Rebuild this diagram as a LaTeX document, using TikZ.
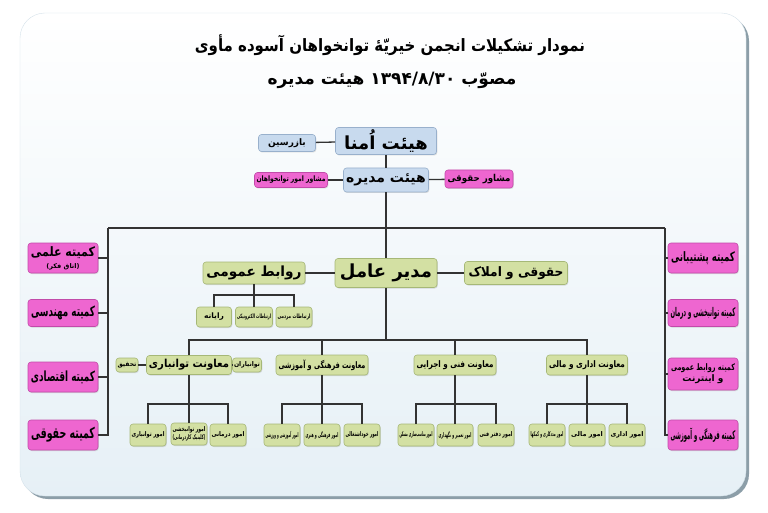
\documentclass[tikz,border=0pt]{standalone}
\usepackage{fontspec}
\usepackage{graphicx}
\usetikzlibrary{shadows}
\TeXXeTstate=1
\newfontfamily\fa[Script=Arabic]{DejaVu Sans}
\newsavebox\mybx
\newcommand\fitR[2]{\sbox\mybx{#2}\ifdim\wd\mybx>#1\resizebox{#1}{\height}{\usebox\mybx}\else\usebox\mybx\fi}
\newcommand\fsz[1]{\fontsize{#1}{#1}\selectfont}
\definecolor{bluef}{HTML}{C8DAEE}
\definecolor{blued}{HTML}{98B0CC}
\definecolor{greenf}{HTML}{D3E0A3}
\definecolor{greend}{HTML}{A6B877}
\definecolor{pinkf}{HTML}{EE66D0}
\definecolor{pinkd}{HTML}{C24BA9}
\definecolor{linec}{HTML}{333333}
\definecolor{bgb}{HTML}{E6F0F6}
\definecolor{shadowc}{HTML}{8C9EA8}
\definecolor{framec}{HTML}{D5E2EA}
\tikzset{
  box/.style={rounded corners=3pt, inner sep=1pt, align=center, line width=0.6pt,
    drop shadow={opacity=0.25, shadow xshift=0.8pt, shadow yshift=-1pt}},
  bluebox/.style={box, fill=bluef, draw=blued},
  greenbox/.style={box, fill=greenf, draw=greend},
  pinkbox/.style={box, fill=pinkf, draw=pinkd},
  conn/.style={draw=linec, line width=1.3pt},
  ttl/.style={inner sep=0pt, font=\fa\bfseries\fsz{17}}
}
\begin{document}
\begin{tikzpicture}[x=1pt,y=-1pt]
\useasboundingbox (0,0) rectangle (768,513);
\fill[white] (0,0) rectangle (768,513);
% frame
\fill[shadowc, rounded corners=25pt] (23,16) rectangle (749,499);
\shade[rounded corners=25pt, top color=white, bottom color=bgb, draw=framec] (20,13) rectangle (746,496);

% title
\node[ttl] (t1) at (390,45) {\fitR{390pt}{\beginR نمودار تشکیلات انجمن خیریّهٔ توانخواهان آسوده مأوی\endR}};
\node[ttl] (t2) at (392,80) {\fitR{255pt}{\beginR مصوّب \beginL ۱۳۹۴/۸/۳۰\endL{} هیئت مدیره\endR}};

% top
\node[bluebox, minimum width=101pt, minimum height=27pt, font=\fa\bfseries\fsz{18}] (omana) at (386,141) {\fitR{95pt}{\beginR هیئت اُمنا\endR}};
\node[bluebox, minimum width=57pt, minimum height=17pt, font=\fa\bfseries\fsz{9}] (bazresin) at (287,143) {\fitR{52pt}{\beginR بازرسین\endR}};
\node[bluebox, minimum width=85pt, minimum height=24pt, font=\fa\bfseries\fsz{14}] (modire) at (386,180) {\fitR{80pt}{\beginR هیئت مدیره\endR}};
\node[pinkbox, minimum width=73pt, minimum height=15pt, font=\fa\bfseries\fsz{7.5}] (mosh1) at (291,180) {\fitR{69pt}{\beginR مشاور امور توانخواهان\endR}};
\node[pinkbox, minimum width=68pt, minimum height=18pt, font=\fa\bfseries\fsz{9.5}] (mosh2) at (479,179) {\fitR{63pt}{\beginR مشاور حقوقی\endR}};

% committees left
\node[pinkbox, minimum width=70pt, minimum height=30pt, font=\fa\bfseries\fsz{13}] (c1) at (63,258) {\fitR{64pt}{\beginR کمیته علمی\endR}\\[-1pt]{\fsz{6.5}\fitR{60pt}{\beginR (اتاق فکر)\endR}}};
\node[pinkbox, minimum width=70pt, minimum height=27pt, font=\fa\bfseries\fsz{14}] (c2) at (63,313) {\fitR{64pt}{\beginR کمیته مهندسی\endR}};
\node[pinkbox, minimum width=70pt, minimum height=30pt, font=\fa\bfseries\fsz{14}] (c3) at (63,377) {\fitR{64pt}{\beginR کمیته اقتصادی\endR}};
\node[pinkbox, minimum width=70pt, minimum height=30pt, font=\fa\bfseries\fsz{15}] (c4) at (63,435) {\fitR{64pt}{\beginR کمیته حقوقی\endR}};
% committees right
\node[pinkbox, minimum width=70pt, minimum height=30pt, font=\fa\bfseries\fsz{13}] (d1) at (703,258) {\fitR{64pt}{\beginR کمیته پشتیبانی\endR}};
\node[pinkbox, minimum width=70pt, minimum height=27pt, font=\fa\bfseries\fsz{12}] (d2) at (703,313) {\fitR{65pt}{\beginR کمیته توانبخشی و درمان\endR}};
\node[pinkbox, minimum width=70pt, minimum height=32pt, font=\fa\bfseries\fsz{9}] (d3) at (703,374) {\fitR{64pt}{\beginR کمیته روابط عمومی\endR}\\[1pt]\fitR{64pt}{\beginR و اینترنت\endR}};
\node[pinkbox, minimum width=70pt, minimum height=30pt, font=\fa\bfseries\fsz{12}] (d4) at (703,435) {\fitR{65pt}{\beginR کمیته فرهنگی و آموزشی\endR}};

% executive
\node[greenbox, minimum width=102pt, minimum height=29pt, font=\fa\bfseries\fsz{18}] (modir) at (386,273) {\fitR{95pt}{\beginR مدیر عامل\endR}};
\node[greenbox, minimum width=102pt, minimum height=22pt, font=\fa\bfseries\fsz{14}] (rav) at (254,273) {\fitR{95pt}{\beginR روابط عمومی\endR}};
\node[greenbox, minimum width=103pt, minimum height=23pt, font=\fa\bfseries\fsz{13}] (hoq) at (516,273) {\fitR{95pt}{\beginR حقوقی و املاک\endR}};
\node[greenbox, minimum width=35pt, minimum height=20pt, font=\fa\bfseries\fsz{7.5}] (r1) at (214,317) {\fitR{31pt}{\beginR رایانه\endR}};
\node[greenbox, minimum width=37pt, minimum height=20pt, font=\fa\bfseries\fsz{6}] (r2) at (254,317) {\fitR{34pt}{\beginR ارتباطات الکترونیکی\endR}};
\node[greenbox, minimum width=36pt, minimum height=20pt, font=\fa\bfseries\fsz{6}] (r3) at (294,317) {\fitR{33pt}{\beginR ارتباطات مردمی\endR}};

% deputies
\node[greenbox, minimum width=85pt, minimum height=19pt, font=\fa\bfseries\fsz{11}] (m1) at (189,365) {\fitR{80pt}{\beginR معاونت توانباری\endR}};
\node[greenbox, minimum width=29pt, minimum height=14pt, font=\fa\bfseries\fsz{6.5}] (tav) at (247,365) {\fitR{26pt}{\beginR توانیاران\endR}};
\node[greenbox, minimum width=22pt, minimum height=14pt, font=\fa\bfseries\fsz{6.5}] (tah) at (127,365) {\fitR{19pt}{\beginR تحقیق\endR}};
\node[greenbox, minimum width=92pt, minimum height=20pt, font=\fa\bfseries\fsz{9}] (m2) at (322,365) {\fitR{87pt}{\beginR معاونت فرهنگی و آموزشی\endR}};
\node[greenbox, minimum width=82pt, minimum height=20pt, font=\fa\bfseries\fsz{9}] (m3) at (455,365) {\fitR{77pt}{\beginR معاونت فنی و اجرایی\endR}};
\node[greenbox, minimum width=81pt, minimum height=20pt, font=\fa\bfseries\fsz{9}] (m4) at (587,365) {\fitR{76pt}{\beginR معاونت اداری و مالی\endR}};

% bottom row
\tikzset{sm/.style={greenbox, minimum width=36pt, minimum height=22pt, font=\fa\bfseries\fsz{6.5}}}
\node[sm] (b11) at (148,435) {\fitR{33pt}{\beginR امور توانباری\endR}};
\node[sm] (b12) at (189,434) {\fitR{33pt}{\beginR امور توانبخشی\endR}\\[0pt]\fitR{33pt}{\beginR (کلینیک کاردرمانی)\endR}};
\node[sm] (b13) at (228,435) {\fitR{33pt}{\beginR امور درمانی\endR}};
\node[sm] (b21) at (282,435) {\fitR{33pt}{\beginR امور آموزشی و ورزشی\endR}};
\node[sm] (b22) at (322,435) {\fitR{33pt}{\beginR امور فرهنگی و هنری\endR}};
\node[sm] (b23) at (362,435) {\fitR{33pt}{\beginR امور خوداشتغالی\endR}};
\node[sm] (b31) at (416,435) {\fitR{33pt}{\beginR امور مناسب‌سازی مسکن\endR}};
\node[sm] (b32) at (455,435) {\fitR{33pt}{\beginR امور تعمیر و نگهداری\endR}};
\node[sm] (b33) at (496,435) {\fitR{33pt}{\beginR امور دفتر فنی\endR}};
\node[sm] (b41) at (547,435) {\fitR{33pt}{\beginR امور مددکاری و کمکها\endR}};
\node[sm] (b42) at (587,435) {\fitR{33pt}{\beginR امور مالی\endR}};
\node[sm] (b43) at (627,435) {\fitR{33pt}{\beginR امور اداری\endR}};

% junction coordinates
\coordinate (busL) at (108,228);
\coordinate (busR) at (665,228);
\coordinate (bus2) at (386,340);
\coordinate (jr) at (254,295);
\coordinate (jb) at (0,404);

% connectors
\draw[conn] (bazresin) -- (omana);
\draw[conn] (omana) -- (modire);
\draw[conn] (mosh1) -- (modire);
\draw[conn] (modire) -- (mosh2);
\draw[conn] (modire) -- (modir);
\draw[conn] (busL) -- (busR);
\draw[conn] (busL) |- (c4.east);
\draw[conn] (c1.east) -- (c1.east -| busL);
\draw[conn] (c2.east) -- (c2.east -| busL);
\draw[conn] (c3.east) -- (c3.east -| busL);
\draw[conn] (busR) |- (d4.west);
\draw[conn] (d1.west) -- (d1.west -| busR);
\draw[conn] (d2.west) -- (d2.west -| busR);
\draw[conn] (d3.west) -- (d3.west -| busR);
\draw[conn] (rav) -- (modir);
\draw[conn] (modir) -- (hoq);
\draw[conn] (rav.south) -- (r2.north);
\draw[conn] (r1.north) -- (r1.north |- jr) -| (r3.north);
\draw[conn] (modir.south) -- (bus2);
\draw[conn] (m1.north) -- (m1.north |- bus2) -- (m4.north |- bus2) -- (m4.north);
\draw[conn] (m2.north) -- (m2.north |- bus2);
\draw[conn] (m3.north) -- (m3.north |- bus2);
\draw[conn] (tah) -- (m1);
\draw[conn] (m1) -- (tav);
\draw[conn] (m1.south) -- (b12.north);
\draw[conn] (b11.north) -- (b11.north |- jb) -| (b13.north);
\draw[conn] (m2.south) -- (b22.north);
\draw[conn] (b21.north) -- (b21.north |- jb) -| (b23.north);
\draw[conn] (m3.south) -- (b32.north);
\draw[conn] (b31.north) -- (b31.north |- jb) -| (b33.north);
\draw[conn] (m4.south) -- (b42.north);
\draw[conn] (b41.north) -- (b41.north |- jb) -| (b43.north);
\end{tikzpicture}
\end{document}
